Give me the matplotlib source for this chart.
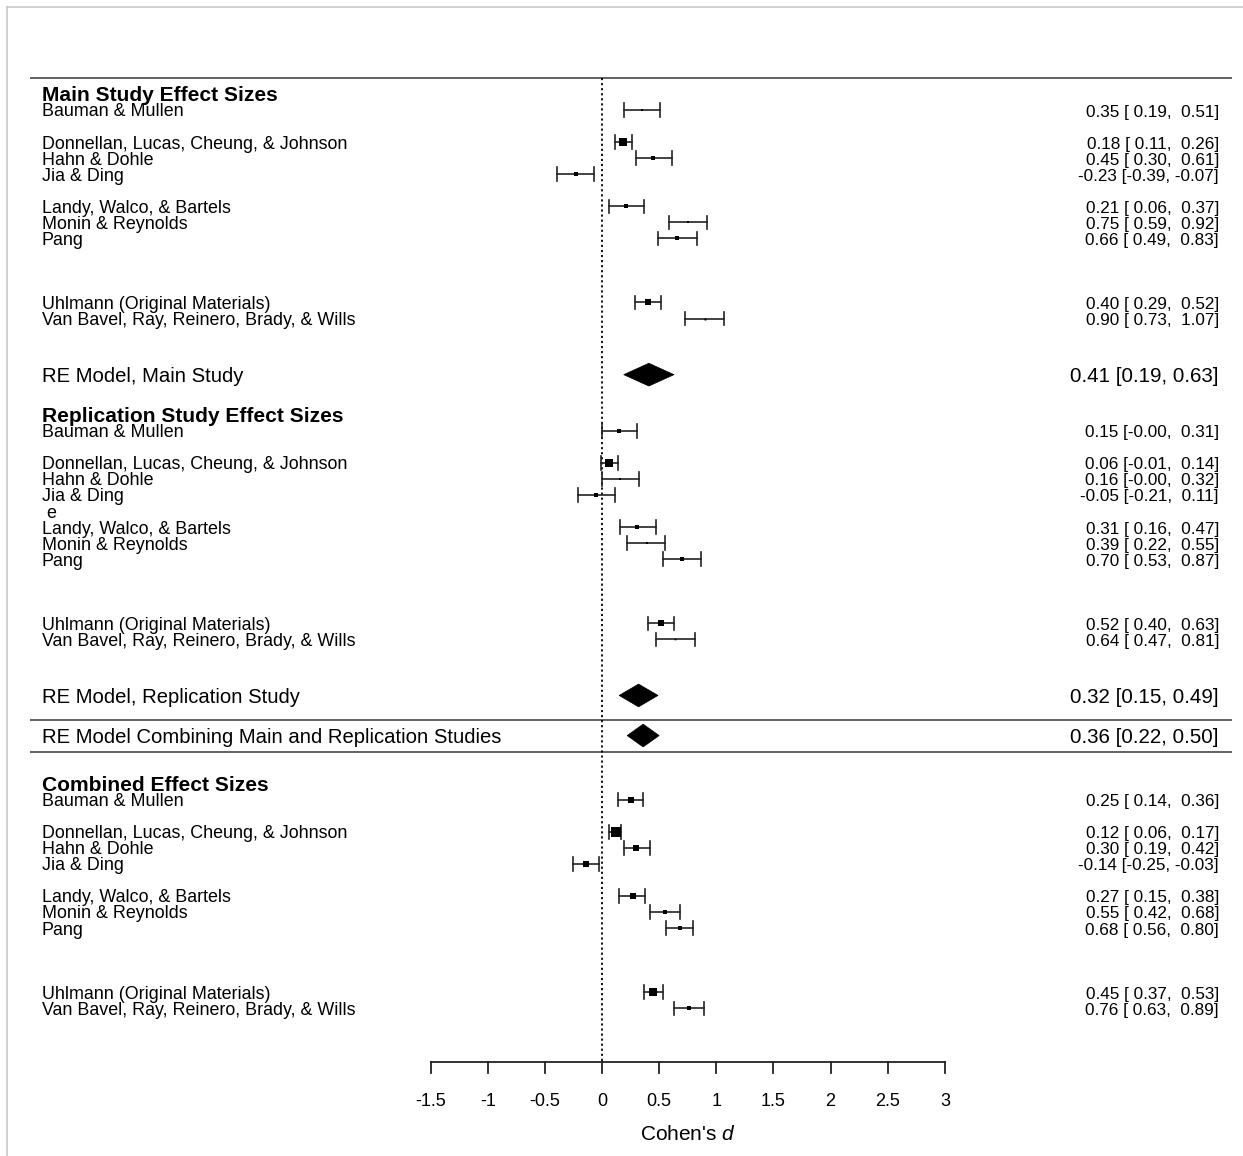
import matplotlib
matplotlib.use("Agg")
import matplotlib.pyplot as plt
from matplotlib.patches import Polygon
from matplotlib.lines import Line2D

plt.rcParams['font.family'] = ['Liberation Sans', 'DejaVu Sans']
plt.rcParams['mathtext.fontset'] = 'custom'
plt.rcParams['mathtext.rm'] = 'Liberation Sans'
plt.rcParams['mathtext.it'] = 'Liberation Sans:italic'

# ---------------- data ----------------
studies = ["Bauman & Mullen", "Donnellan, Lucas, Cheung, & Johnson", "Hahn & Dohle",
           "Jia & Ding", "Landy, Walco, & Bartels", "Monin & Reynolds", "Pang",
           "Uhlmann (Original Materials)", "Van Bavel, Ray, Reinero, Brady, & Wills"]

main_est = [0.35, 0.18, 0.45, -0.23, 0.21, 0.75, 0.66, 0.40, 0.90]
main_lo = [0.19, 0.11, 0.30, -0.39, 0.06, 0.59, 0.49, 0.29, 0.73]
main_hi = [0.51, 0.26, 0.61, -0.07, 0.37, 0.92, 0.83, 0.52, 1.07]
main_w = [2.0, 7.0, 4.0, 4.0, 4.0, 2.2, 3.5, 5.2, 1.8]

rep_est = [0.15, 0.06, 0.16, -0.05, 0.31, 0.39, 0.70, 0.52, 0.64]
rep_lo = [-0.00, -0.01, -0.00, -0.21, 0.16, 0.22, 0.53, 0.40, 0.47]
rep_hi = [0.31, 0.14, 0.32, 0.11, 0.47, 0.55, 0.87, 0.63, 0.81]
rep_w = [3.5, 7.5, 2.0, 3.5, 3.0, 2.5, 3.5, 5.0, 1.5]

comb_est = [0.25, 0.12, 0.30, -0.14, 0.27, 0.55, 0.68, 0.45, 0.76]
comb_lo = [0.14, 0.06, 0.19, -0.25, 0.15, 0.42, 0.56, 0.37, 0.63]
comb_hi = [0.36, 0.17, 0.42, -0.03, 0.38, 0.68, 0.80, 0.53, 0.89]
comb_w = [5.0, 10.0, 5.0, 5.0, 5.0, 4.0, 4.5, 8.0, 4.0]

re_labels = ["RE Model, Main Study", "RE Model, Replication Study",
             "RE Model Combining Main and Replication Studies"]
re_est = [0.41, 0.32, 0.36]
re_lo = [0.19, 0.15, 0.22]
re_hi = [0.63, 0.49, 0.50]

headers = ["Main Study Effect Sizes", "Replication Study Effect Sizes", "Combined Effect Sizes"]
xticks = [-1.5, -1, -0.5, 0, 0.5, 1, 1.5, 2, 2.5, 3]
xlabel_text = r"Cohen's $\it{d}$"

# ---------------- layout ----------------
W, H = 1243, 1156
X0PX, XSCALE = 602.0, 114.3       # pixel of x=0, pixels per unit
Y0PX, YSCALE = 110.0, 16.04       # pixel of row 0, pixels per row

def px2x(p):
    return (p - X0PX) / XSCALE

def px2row(p):
    return (p - Y0PX) / YSCALE

study_rows_rel = [0, 2, 3, 4, 6, 7, 8, 12, 13]
section_offsets = [0, 20, 43]
header_rows = [-1, 19, 42]
re_rows = [16.5, 36.5, 39.0]
hline_rows = [-2, 38, 40]
axis_row = px2row(1062)
TXT_DY = 2.0 / YSCALE   # small downward shift of text relative to marks

fig = plt.figure(figsize=(W / 100, H / 100), dpi=100)
ax = fig.add_axes([0, 0, 1, 1])
ax.set_xlim(px2x(0), px2x(W))
ax.set_ylim(px2row(H), px2row(0))
ax.axis('off')

# figure border (top / left)
fig.add_artist(Line2D([7 / W, 1], [1 - 7 / H, 1 - 7 / H], color='#c8c8c8', lw=1.2))
fig.add_artist(Line2D([7 / W, 7 / W], [0, 1 - 7 / H], color='#c8c8c8', lw=1.2))

x_left_lab = px2x(42)
x_right_lab = px2x(1219)
x_line_l, x_line_r = px2x(30), px2x(1232)

LAB_FS = 12.9
VAL_FS = 12.3
HDR_FS = 15.1
RE_FS = 14.6
TICK_FS = 13.0
XLAB_FS = 15.0

def ci_str(e, l, h):
    le = "%.2f" % l
    he = "%.2f" % h
    le = le if le.startswith("-") else " " + le
    he = " " + he if he.startswith("-") else "  " + he
    return "%.2f [%s,%s]" % (e, le, he)

# horizontal rule lines
for r in hline_rows:
    ax.plot([x_line_l, x_line_r], [r, r], color='#555555', lw=1.3, solid_capstyle='butt')

# reference dotted line
ax.plot([0, 0], [hline_rows[0], axis_row], color='black', lw=1.3, ls=(0, (1.2, 1.6)))

cap_half = 0.42
sections = [(main_est, main_lo, main_hi, main_w),
            (rep_est, rep_lo, rep_hi, rep_w),
            (comb_est, comb_lo, comb_hi, comb_w)]

for si, (est, lo, hi, w) in enumerate(sections):
    off = section_offsets[si]
    ax.text(x_left_lab, header_rows[si] + TXT_DY, headers[si], fontsize=HDR_FS,
            fontweight='bold', ha='left', va='center')
    for i, name in enumerate(studies):
        r = study_rows_rel[i] + off
        ax.plot([lo[i], hi[i]], [r, r], color='#222222', lw=1.2)
        for xc in (lo[i], hi[i]):
            ax.plot([xc, xc], [r - cap_half, r + cap_half], color='#222222', lw=1.2)
        ax.plot([est[i]], [r], marker='s', color='black', markersize=w[i] * 0.78, mew=0)
        ax.text(x_left_lab, r + TXT_DY, name, fontsize=LAB_FS, ha='left', va='center')
        ax.text(x_right_lab, r + TXT_DY, ci_str(est[i], lo[i], hi[i]), fontsize=VAL_FS,
                ha='right', va='center')

# stray label in replication block
ax.text(x_left_lab, 25 + TXT_DY, " e", fontsize=LAB_FS, ha='left', va='center')

# RE diamonds
dh = 0.71
for i in range(3):
    r = re_rows[i]
    poly = Polygon([[re_lo[i], r], [re_est[i], r - dh], [re_hi[i], r], [re_est[i], r + dh]],
                   closed=True, facecolor='black', edgecolor='black', lw=0.5)
    ax.add_patch(poly)
    ax.text(x_left_lab, r + TXT_DY, re_labels[i], fontsize=RE_FS, ha='left', va='center')
    ax.text(x_right_lab, r + TXT_DY, "%.2f [%.2f, %.2f]" % (re_est[i], re_lo[i], re_hi[i]),
            fontsize=RE_FS + 0.2, ha='right', va='center')

# x axis
ax.plot([xticks[0], xticks[-1]], [axis_row, axis_row], color='#222222', lw=1.3)
tick_len = 11 / YSCALE
for t in xticks:
    ax.plot([t, t], [axis_row, axis_row + tick_len], color='#222222', lw=1.3)
    ax.text(t, px2row(1101), "%g" % t, fontsize=TICK_FS, ha='center', va='center')
ax.text(px2x(688), px2row(1135), xlabel_text, fontsize=XLAB_FS, ha='center', va='center')

fig.savefig("out.png", dpi=100)
